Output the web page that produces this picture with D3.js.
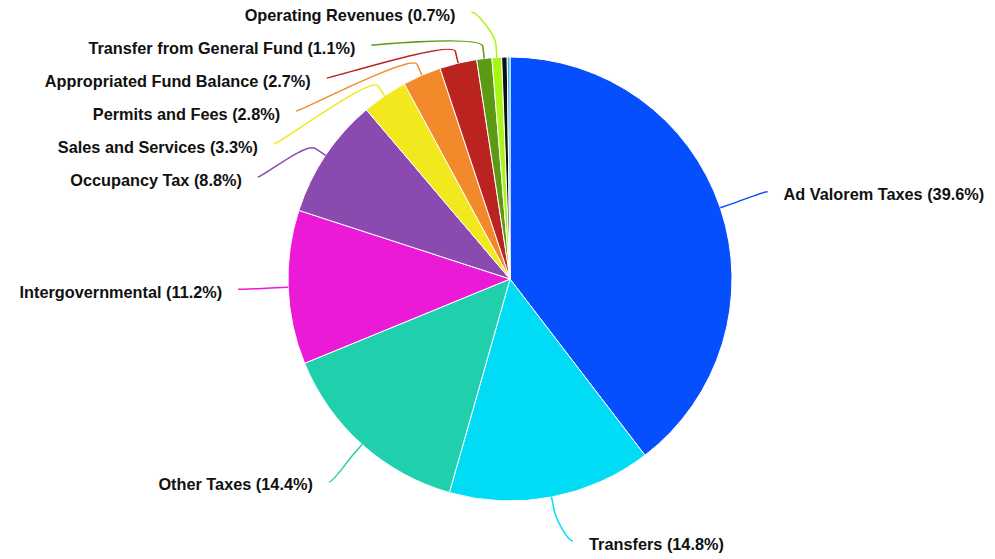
<!DOCTYPE html>
<html lang="en">
<head>
	<meta charset="utf-8">
	<title>Revenue Sources</title>
	<script type="text/javascript" src="https://d3js.org/d3.v7.min.js"></script>
	<style>
		body { margin: 0; background: #fff; }
		.label { font-family: "Liberation Sans", Arial, Helvetica, sans-serif; font-size: 16.3px; font-weight: bold; fill: #111; }
		.slice { stroke: #fff; stroke-width: 1; }
		.connector { fill: none; stroke-width: 1.5; }
	</style>
</head>
<body>
	<div id="chart"></div>

	<script type="text/javascript">

		// data (percent of total revenue), clockwise from 12 o'clock
		var categories = ["Ad Valorem Taxes", "Transfers", "Other Taxes", "Intergovernmental",
			"Occupancy Tax", "Sales and Services", "Permits and Fees", "Appropriated Fund Balance",
			"Transfer from General Fund", "Operating Revenues", "", ""];
		var values = [39.6, 14.8, 14.4, 11.2, 8.8, 3.3, 2.8, 2.7, 1.1, 0.7, 0.4, 0.2];
		var colors = ["#064ffe", "#00dcf6", "#20cfac", "#eb1ad6", "#8b4ab0", "#f1e81e",
			"#f2892b", "#ba2320", "#5b9a12", "#a9f516", "#111111", "#29b6f6"];

		var w = 995,
		    h = 559;

		var cx = 510, cy = 279, r = 222,
		    distance = 50, R = r + distance,
		    slot = 33, labelGap = 16, crook = 12;

		var svg = d3.select("#chart")
			.append("svg")
			.attr("width", w)
			.attr("height", h);

		var data = values.map(function(v, i) {
			return {name: categories[i], value: v, color: colors[i]};
		});

		var pie = d3.pie()
			.sort(null)
			.value(function(d) { return d.value; });

		var arcs = pie(data);
		var total = d3.sum(values);

		var arc = d3.arc()
			.innerRadius(0)
			.outerRadius(r);

		var g = svg.append("g")
			.attr("transform", "translate(" + cx + "," + cy + ")");

		// slices
		g.selectAll(".slice")
			.data(arcs)
			.enter()
			.append("path")
			.attr("class", "slice")
			.attr("d", arc)
			.attr("fill", function(d) { return d.data.color; });

		// label layout
		function polar(a, rad) {
			return {x: rad * Math.sin(a), y: -rad * Math.cos(a)};
		}

		var labels = arcs.filter(function(d) { return d.data.name !== ""; }).map(function(d) {
			var a = (d.startAngle + d.endAngle) / 2;
			var p = polar(a, R);
			return {arc: d, angle: a, left: a > Math.PI, ny: p.y, y: p.y};
		});

		var minY = 12 - cy, maxY = h - 18 - cy;

		function distribute(items) {
			items.sort(function(a, b) { return a.ny - b.ny; });
			var groups = items.map(function(d) { return {items: [d]}; });
			function place(gr) {
				var n = gr.items.length;
				var mean = d3.mean(gr.items, function(d) { return d.ny; });
				var top = mean - (n - 1) * slot / 2;
				top = Math.max(minY, Math.min(maxY - (n - 1) * slot, top));
				gr.top = top;
			}
			groups.forEach(place);
			var merged = true;
			while (merged) {
				merged = false;
				for (var i = 1; i < groups.length; i++) {
					var a = groups[i - 1], b = groups[i];
					if (a.top + a.items.length * slot > b.top) {
						a.items = a.items.concat(b.items);
						groups.splice(i, 1);
						place(a);
						merged = true;
						break;
					}
				}
			}
			groups.forEach(function(gr) {
				gr.items.forEach(function(d, i) { d.y = gr.top + i * slot; });
			});
		}

		distribute(labels.filter(function(d) { return d.left; }));
		distribute(labels.filter(function(d) { return !d.left; }));

		labels.forEach(function(d) {
			// near the very top/bottom, keep the natural x so connectors stay short
			var yy = Math.abs(d.y) > R - 20 ? (d.ny + d.y) / 2 : d.y;
			var dx = Math.sqrt(Math.max(0, R * R - yy * yy));
			d.x = d.left ? -dx : dx;
			d.brk = polar(d.angle, r + crook);
			d.touch = polar(d.angle, r);
		});

		// connectors
		g.selectAll(".connector")
			.data(labels)
			.enter()
			.append("path")
			.attr("class", "connector")
			.attr("stroke", function(d) { return d.arc.data.color; })
			.attr("d", function(d) {
				var p = d3.path();
				p.moveTo(d.x, d.y);
				p.bezierCurveTo(d.x + (d.left ? 5 : -5), d.y,
					2 * d.brk.x - d.touch.x, 2 * d.brk.y - d.touch.y,
					d.brk.x, d.brk.y);
				p.lineTo(d.touch.x, d.touch.y);
				return p.toString();
			});

		// labels
		g.selectAll(".label")
			.data(labels)
			.enter()
			.append("text")
			.attr("class", "label")
			.attr("x", function(d) { return d.left ? d.x - labelGap : d.x + labelGap; })
			.attr("y", function(d) { return d.y + 8.5; })
			.attr("text-anchor", function(d) { return d.left ? "end" : "start"; })
			.text(function(d) {
				return d.arc.data.name + " (" + (d.arc.data.value / total * 100).toFixed(1) + "%)";
			});

	</script>
</body>
</html>
